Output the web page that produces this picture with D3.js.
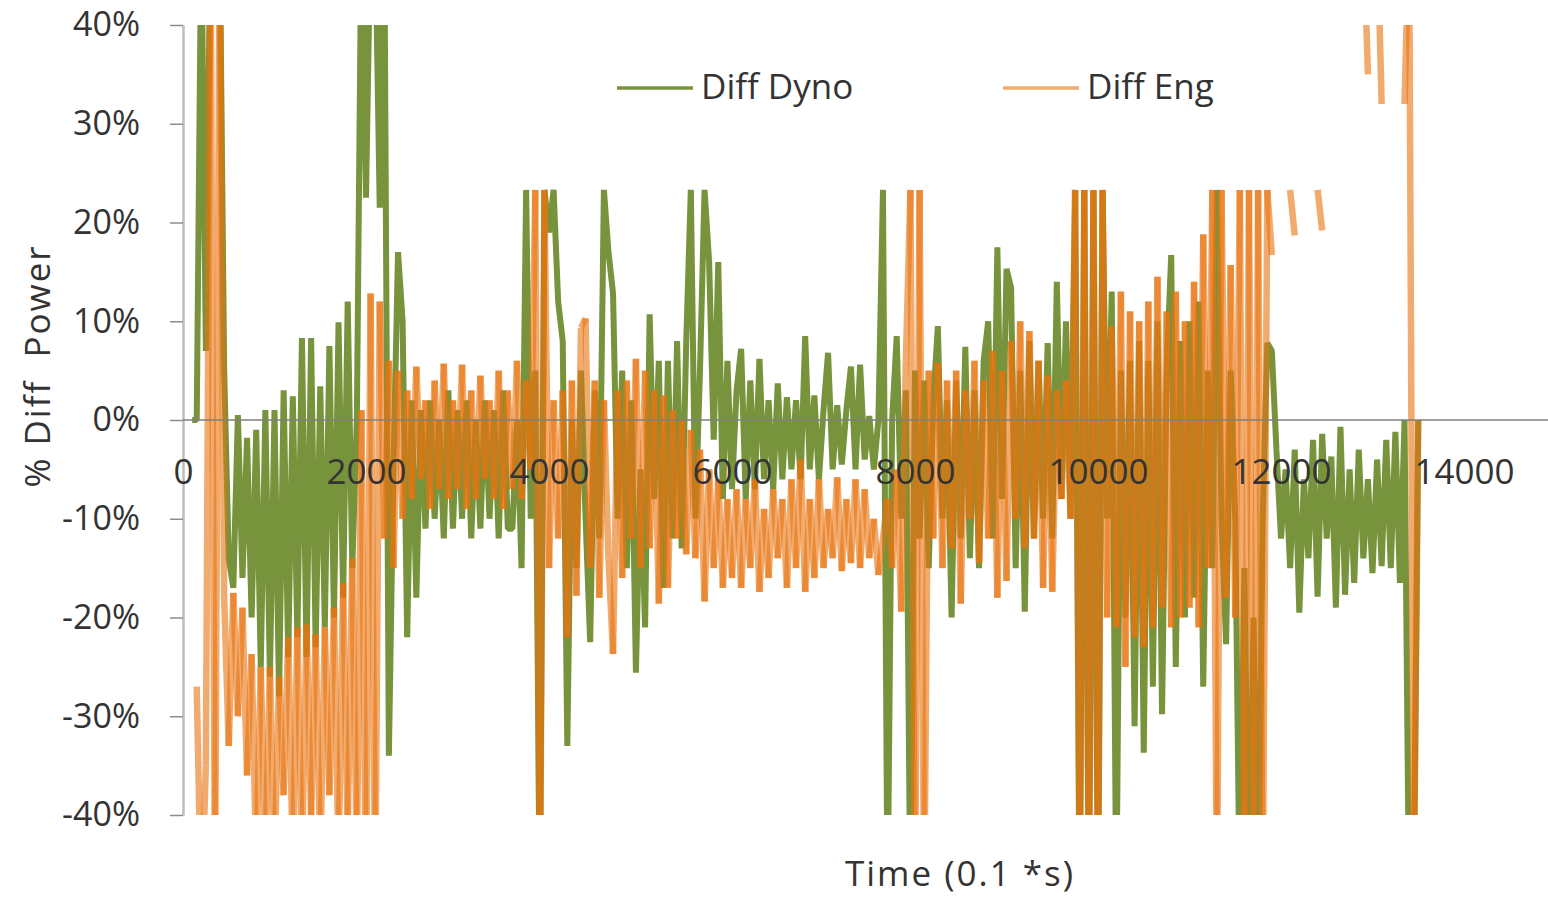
<!DOCTYPE html>
<html>
<head>
<meta charset="utf-8">
<script src="https://cdn.jsdelivr.net/npm/d3@7"></script>
<style>
body { margin: 0; background: #fff; }
svg text { font-family: "Open Sans", sans-serif; fill: #333; }
</style>
</head>
<body>
<svg id="chart" width="1548" height="898"></svg>
<script>
// samples, one every 50 time units starting at t = 100
var tStart = 100, tStep = 50;
var seriesNames = ["Diff Dyno", "Diff Eng"];
var xTicks = [0, 2000, 4000, 6000, 8000, 10000, 12000, 14000];
var yTicks = [-40, -30, -20, -10, 0, 10, 20, 30, 40];

// % difference, dyno (values past +/-40 are off the chart)
var diffDyno = [
	0, 0, 50, 7, 50, 45, 50, 5, -14, -17,                 // 100
	0.5, -16, -1.8, -20, -1, -25, 1, -26, 1, -28,         // 600
	3, -24, 2.4, -22, 8.3, -24, 8.3, -23, 3.4, -21,       // 1100
	7.5, -20, 9.9, -18, 12, -15, 0, 50, 22.5, 50,         // 1600
	50, 21.5, 50, -34, -5, 17, 10, -22, 2, -18,           // 2100
	1, -11, 2, -10, 0, -12, 3, -11, 1, -10,               // 2600
	2, -12, 0, -11, 2, -10, 1, -12, 3, -11,               // 3100
	-11, 0, -15, 23.3, -10, 5, -50, 23.3, 19, 23.3,       // 3600
	12, 8, -33, 0, -15, 5, -10, -22.5, 3, -12,            // 4100
	23.3, 17, 12.8, -10, 5, -15, 2, -25.6, -5, -21,       // 4600
	10.7, -8, 6, -17, 6, -12, 8, -13, 8, 23.3,            // 5100
	-10, 5, 23.3, 16, -2, 16, -8, 6, -7, 3,               // 5600
	7.2, -8, 4, -7, 6.2, -6, 2, -7, 3.7, -6,              // 6100
	2.3, -5, 2, -6, 8.5, -5, 2.5, -6, 1, 6.8,             // 6600
	-5, 1.5, -4.5, 1, 5.4, -5, 5.6, -4, 0.4, -5,          // 7100
	0, 23.3, -50, 0, 8.5, -10, 3, -50, 5, -12,            // 7600
	4, -15, 2, 9.5, -10, 2, -20, 4, -12, 7.4,             // 8100
	-14, 3, -15, 6, 10, -12, 17.5, -8, 15.3, 13.4,        // 8600
	-15, 5, -19.4, 8, -12, 6, -10, 7.8, -12, 14,          // 9100
	-8, 10, -10, 23.3, -50, 23.3, -50, 23.3, -50, 23.3,   // 9600
	-10, 13, -50, 5, -20, 6, -31, 8, -33.7, 6,            // 10100
	-27, 10, -29.8, 5, 16.7, -25, 8, -20, 10, -18,        // 10600
	12, -27, 5, -15, 23.3, -10, -22.7, 5, -10, -50,       // 11100
	-15, -50, -20, -50, -10, 7.8, 7, -3, -12, -5,         // 11600
	-15, -3, -19.5, -6, -14, -2, -17.9, -1.4, -12, -3.7,  // 12100
	-19, -0.7, -17.7, -5, -16.5, -3, -14, -6, -15.5, -4,  // 12600
	-14.8, -2, -15, -1.2, -16.5, 0, -50, -50, 0           // 13100
];

// % difference, engine (null = no value)
var diffEng = [
	null, -27, -50, -35, 50, -50, 50, -18, -33, -17.5,    // 100
	-30, -19, -36, -23.7, -45, -25, -45, -25, -45, -26,   // 600
	-38, -22, -45, -21, -45, -20.7, -40, -21.7, -45, -21, // 1100
	-38, -19, -45, -16.5, -42, -14, -45, 1, -50, 12.8,    // 1600
	-50, 12, -12, 6, -15, 5, -10, 3, -8, 5.4,             // 2100
	-6, 2, -9, 4, -7, 5.7, -8, 2, -7, 5.6,                // 2600
	-9, 3, -8, 4.5, -6, 2, -8, 5, -9, 3,                  // 3100
	-7, 6, -8, 4, -5, 23.3, -50, 23.3, -15, 2,            // 3600
	-12, 3, -22, 4, -17.8, 9.3, 10.3, -15, 4, -18,        // 4100
	2, -14, -23.7, 3, -16, 4, -12, 6.2, -15, 5,           // 4600
	-13, 3, -18.6, 2.5, -17, 1, -12, 0, -13.6, -1,        // 5100
	-14, -3, -18.4, -5, -15, -6, -17, -8, -16, -7,        // 5600
	-17, -8, -15, -6, -17.4, -9, -16, -7, -14, -8,        // 6100
	-17, -6, -15, -4, -17.4, -8, -16, -6, -15, -9,        // 6600
	-14, -5.8, -15.3, -8, -14.5, -6, -15, -7, -14, -10,   // 7100
	-15.7, -12, -8, -15, -5, -19.4, 6, 23.3, -50, 23.3,   // 7600
	-50, 5, -12, 5.8, -15, 4, -13, 5, -18.6, 3,           // 8100
	-10, 6, -14.5, 4, -12, 7, -18, 5, -16.3, 8,           // 8600
	-10, 10, -13, 9, -12, 6, -17, 4.5, -17.4, 3,          // 9100
	-8, 4, -10, 23.3, -50, 23.3, -50, 23.3, -50, 23.3,    // 9600
	-20, 9.5, -21, 13, -25, 11, -22, 10, -23, 12,         // 10100
	-21, 14.5, -19, 11, -21, 13, -20, 10, -19, 14,        // 10600
	-21, 18.8, -15, 23.3, -50, 23.3, -18, 15.7, -20, 23.3,// 11100
	-50, 23.3, -50, 23.3, -50, 23.3, 16.7, null, null, null, // 11600
	23.3, 18.7, null, null, null, null, 23.3, 19.2, null, null, // 12100
	null, null, null, null, null, null, 50, 35, null, 50, // 12600
	32, null, null, null, null, 32, 50, -50, 0            // 13100
];

var colors = { dyno: "#77933C", eng: "#E8730F" };

var svg = d3.select("#chart");

var x = d3.scaleLinear().domain([0, 14000]).range([183, 1464]);
var y = d3.scaleLinear().domain([-40, 40]).range([815, 25]);

function toPoints(values) {
	return values.map(function (v, i) { return { t: tStart + i * tStep, v: v }; });
}

svg.append("clipPath").attr("id", "plot-clip")
	.append("rect")
	.attr("x", x(0)).attr("y", y(40))
	.attr("width", 1548 - x(0)).attr("height", y(-40) - y(40));

var plot = svg.append("g").attr("clip-path", "url(#plot-clip)");

// dyno first, a plain line
var line = d3.line()
	.defined(function (d) { return d.v != null; })
	.x(function (d) { return x(d.t); })
	.y(function (d) { return y(d.v); });

plot.append("path")
	.datum(toPoints(diffDyno))
	.attr("d", line)
	.attr("fill", "none")
	.attr("stroke", colors.dyno)
	.attr("stroke-width", 6)
	.attr("stroke-linejoin", "bevel");

// engine on top, drawn segment by segment so the see-through strokes pile up
var engPts = toPoints(diffEng);
var segs = [];
for (var i = 1; i < engPts.length; i++) {
	if (engPts[i - 1].v != null && engPts[i].v != null) segs.push([engPts[i - 1], engPts[i]]);
}

plot.selectAll("line.eng")
	.data(segs)
	.enter()
	.append("line")
	.attr("class", "eng")
	.attr("x1", function (d) { return x(d[0].t); })
	.attr("y1", function (d) { return y(d[0].v); })
	.attr("x2", function (d) { return x(d[1].t); })
	.attr("y2", function (d) { return y(d[1].v); })
	.attr("stroke", colors.eng)
	.attr("stroke-opacity", 0.6)
	.attr("stroke-width", 6.5);

// y axis
var yAxis = d3.axisLeft(y)
	.tickValues(yTicks)
	.tickSize(13)
	.tickSizeOuter(0)
	.tickPadding(30)
	.tickFormat(function (d) { return d + "%"; });

var gy = svg.append("g").attr("transform", "translate(" + x(0) + ",0)").call(yAxis);
gy.select(".domain").attr("stroke", "#bdbdbd").attr("stroke-width", 2.5);
gy.selectAll(".tick line").attr("stroke", "#8c8c8c").attr("stroke-width", 1.5);
gy.selectAll(".tick text").style("font-size", "34px").attr("fill", "#333");

// x axis crosses at 0%
svg.append("line")
	.attr("x1", x(0)).attr("x2", 1548)
	.attr("y1", y(0)).attr("y2", y(0))
	.attr("stroke", "#7f7f7f")
	.attr("stroke-width", 1.5);

var xAxis = d3.axisBottom(x)
	.tickValues(xTicks)
	.tickSize(0)
	.tickPadding(39)
	.tickFormat(d3.format("d"));

var gx = svg.append("g").attr("transform", "translate(0," + y(0) + ")").call(xAxis);
gx.select(".domain").remove();
gx.selectAll(".tick text").style("font-size", "35px").attr("fill", "#222");

// axis titles
svg.append("text")
	.attr("transform", "translate(36," + 366 + ")rotate(-90)")
	.attr("text-anchor", "middle")
	.attr("dominant-baseline", "central")
	.style("font-size", "35px")
	.style("letter-spacing", "2px")
	.style("white-space", "pre")
	.text("% Diff  Power");

svg.append("text")
	.attr("x", 960).attr("y", 886)
	.attr("text-anchor", "middle")
	.style("font-size", "35px")
	.style("letter-spacing", "2px")
	.text("Time (0.1 *s)");

// legend
var legend = svg.append("g");
var legendItems = [
	{ name: seriesNames[0], color: colors.dyno, op: 1, x0: 617 },
	{ name: seriesNames[1], color: colors.eng, op: 0.6, x0: 1003 }
];
legendItems.forEach(function (it) {
	legend.append("line")
		.attr("x1", it.x0).attr("x2", it.x0 + 76)
		.attr("y1", 88).attr("y2", 88)
		.attr("stroke", it.color)
		.attr("stroke-opacity", it.op)
		.attr("stroke-width", 3.5);
	legend.append("text")
		.attr("x", it.x0 + 84).attr("y", 99)
		.style("font-size", "35px")
		.text(it.name);
});
</script>
</body>
</html>
